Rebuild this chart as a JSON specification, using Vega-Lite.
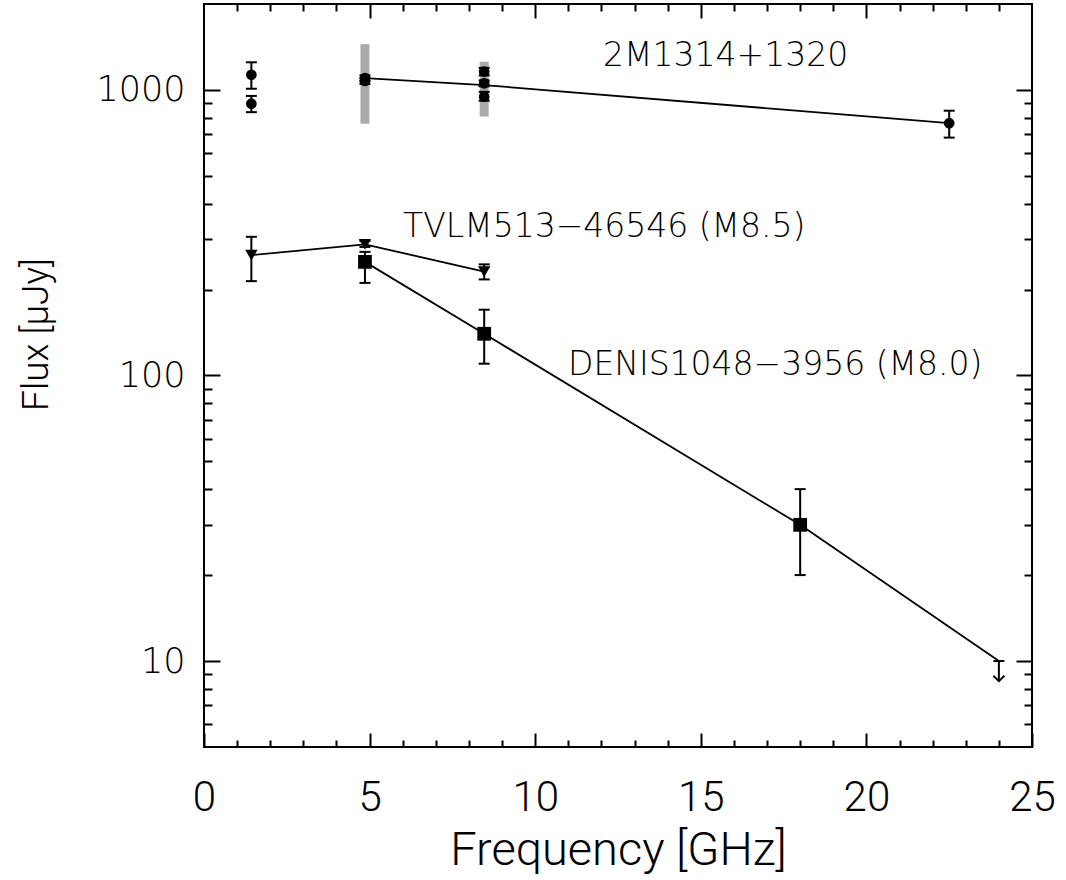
{
  "$schema": "https://vega.github.io/schema/vega-lite/v6.json",
  "width": 828,
  "height": 743,
  "autosize": "none",
  "padding": {"left": 204, "top": 4, "right": 34, "bottom": 133},
  "background": "white",
  "config": {
    "view": {"stroke": "black", "strokeWidth": 2},
    "axis": {"domain": false, "grid": false, "tickColor": "black", "tickWidth": 2, "labelColor": "black", "titleColor": "black", "labelFlush": false, "labelOverlap": false, "labelBound": false}
  },
  "datasets": {
    "pts": [
      {"src": "2M", "freq": 1.43, "flux": 1130, "lo": 1010, "hi": 1250},
      {"src": "2M", "freq": 1.43, "flux": 895, "lo": 836, "hi": 953},
      {"src": "2M", "freq": 4.86, "flux": 1100, "lo": 1075, "hi": 1125},
      {"src": "2M", "freq": 4.86, "flux": 1075, "lo": 1050, "hi": 1100},
      {"src": "2M", "freq": 8.46, "flux": 1160, "lo": 1125, "hi": 1195},
      {"src": "2M", "freq": 8.46, "flux": 1055, "lo": 1030, "hi": 1080},
      {"src": "2M", "freq": 8.46, "flux": 947, "lo": 917, "hi": 985},
      {"src": "2M", "freq": 22.5, "flux": 765, "lo": 681, "hi": 846},
      {"src": "TVLM", "freq": 1.43, "flux": 264, "lo": 214, "hi": 306},
      {"src": "TVLM", "freq": 4.86, "flux": 288, "lo": 282, "hi": 296},
      {"src": "TVLM", "freq": 8.46, "flux": 231, "lo": 217, "hi": 245},
      {"src": "DENIS", "freq": 4.86, "flux": 250, "lo": 211, "hi": 271},
      {"src": "DENIS", "freq": 8.46, "flux": 140, "lo": 110, "hi": 170},
      {"src": "DENIS", "freq": 18.0, "flux": 30, "lo": 20, "hi": 40}
    ],
    "grey": [
      {"freq": 4.86, "lo": 762, "hi": 1446},
      {"freq": 8.46, "lo": 807, "hi": 1256}
    ],
    "lines": [
      {"src": "2M", "freq": 4.86, "flux": 1100},
      {"src": "2M", "freq": 8.46, "flux": 1040},
      {"src": "2M", "freq": 22.5, "flux": 765},
      {"src": "TVLM", "freq": 1.43, "flux": 264},
      {"src": "TVLM", "freq": 4.86, "flux": 288},
      {"src": "TVLM", "freq": 8.46, "flux": 231},
      {"src": "DENIS", "freq": 4.86, "flux": 250},
      {"src": "DENIS", "freq": 8.46, "flux": 140},
      {"src": "DENIS", "freq": 18.0, "flux": 30},
      {"src": "DENIS", "freq": 24.0, "flux": 10}
    ],
    "limit": [
      {"freq": 24.0, "flux": 10, "tip": 8.5}
    ],
    "labels": [
      {"label": "2M1314+1320", "freq": 12.05, "flux": 1310},
      {"label": "TVLM513−46546 (M8.5)", "freq": 6.01, "flux": 331},
      {"label": "DENIS1048−3956 (M8.0)", "freq": 10.99, "flux": 109}
    ]
  },
  "resolve": {"axis": {"x": "independent", "y": "independent"}},
  "layer": [
    {
      "data": {"name": "grey"},
      "mark": {"type": "rule", "color": "#aaaaaa", "strokeWidth": 9},
      "encoding": {
        "x": {"field": "freq", "type": "quantitative", "scale": {"domain": [0, 25], "nice": false, "zero": false},
          "axis": {"orient": "bottom", "values": [0, 5, 10, 15, 20, 25], "tickSize": -14, "labelPadding": 44,
            "labelFont": "Roboto", "labelFontSize": 42, "labelFontWeight": 300,
            "title": "Frequency [GHz]", "titleFont": "Roboto", "titleFontSize": 47, "titleFontWeight": 300,
            "titleX": 414, "titleY": 117, "titleBaseline": "alphabetic", "titleAlign": "center", "titleAnchor": null}},
        "y": {"field": "lo", "type": "quantitative", "scale": {"type": "log", "domain": [5, 2000], "nice": false},
          "axis": {"orient": "left", "values": [10, 100, 1000], "format": "d", "tickSize": -16, "labelPadding": 35,
            "labelFont": "DejaVu Sans", "labelFontSize": 35, "labelFontWeight": 200,
            "title": "Flux [μJy]", "titleFont": "Roboto", "titleFontSize": 37, "titleFontWeight": 300,
            "titleX": -168, "titleY": 330, "titleAngle": 270, "titleBaseline": "middle", "titleAlign": "center", "titleAnchor": null}},
        "y2": {"field": "hi"}
      }
    },
    {
      "data": {"name": "lines"},
      "mark": {"type": "line", "color": "black", "strokeWidth": 1.8},
      "encoding": {
        "x": {"field": "freq", "type": "quantitative", "scale": {"domain": [0, 25], "nice": false, "zero": false},
          "axis": {"orient": "bottom", "values": [1, 2, 3, 4, 6, 7, 8, 9, 11, 12, 13, 14, 16, 17, 18, 19, 21, 22, 23, 24], "tickSize": -7, "labels": false, "title": null}},
        "y": {"field": "flux", "type": "quantitative", "scale": {"type": "log", "domain": [5, 2000], "nice": false},
          "axis": {"orient": "left", "values": [6, 7, 8, 9, 20, 30, 40, 50, 60, 70, 80, 90, 200, 300, 400, 500, 600, 700, 800, 900], "tickSize": -8, "labels": false, "title": null}},
        "detail": {"field": "src"}
      }
    },
    {
      "data": {"name": "pts"},
      "mark": {"type": "rule", "color": "black", "strokeWidth": 2},
      "encoding": {
        "x": {"field": "freq", "type": "quantitative", "scale": {"domain": [0, 25], "nice": false, "zero": false},
          "axis": {"orient": "top", "values": [5, 10, 15, 20], "tickSize": -14, "labels": false, "title": null}},
        "y": {"field": "lo", "type": "quantitative", "scale": {"type": "log", "domain": [5, 2000], "nice": false},
          "axis": {"orient": "right", "values": [10, 100, 1000], "tickSize": -16, "labels": false, "title": null}},
        "y2": {"field": "hi"}
      }
    },
    {
      "data": {"name": "pts"},
      "mark": {"type": "tick", "color": "black", "orient": "horizontal", "size": 11, "thickness": 2, "opacity": 1},
      "encoding": {
        "x": {"field": "freq", "type": "quantitative", "scale": {"domain": [0, 25], "nice": false, "zero": false},
          "axis": {"orient": "top", "values": [1, 2, 3, 4, 6, 7, 8, 9, 11, 12, 13, 14, 16, 17, 18, 19, 21, 22, 23, 24], "tickSize": -7, "labels": false, "title": null}},
        "y": {"field": "lo", "type": "quantitative", "scale": {"type": "log", "domain": [5, 2000], "nice": false},
          "axis": {"orient": "right", "values": [6, 7, 8, 9, 20, 30, 40, 50, 60, 70, 80, 90, 200, 300, 400, 500, 600, 700, 800, 900], "tickSize": -8, "labels": false, "title": null}}
      }
    },
    {
      "data": {"name": "pts"},
      "mark": {"type": "tick", "color": "black", "orient": "horizontal", "size": 11, "thickness": 2, "opacity": 1},
      "encoding": {
        "x": {"field": "freq", "type": "quantitative", "axis": null},
        "y": {"field": "hi", "type": "quantitative", "axis": null}
      }
    },
    {
      "data": {"name": "pts"},
      "mark": {"type": "point", "filled": true, "color": "black", "opacity": 1},
      "encoding": {
        "x": {"field": "freq", "type": "quantitative", "axis": null},
        "y": {"field": "flux", "type": "quantitative", "axis": null},
        "shape": {"field": "src", "type": "nominal", "scale": {"domain": ["2M", "TVLM", "DENIS"], "range": ["circle", "triangle-down", "square"]}, "legend": null},
        "size": {"field": "src", "type": "nominal", "scale": {"domain": ["2M", "TVLM", "DENIS"], "range": [115, 190, 115]}, "legend": null}
      }
    },
    {
      "data": {"name": "limit"},
      "mark": {"type": "rule", "color": "black", "strokeWidth": 2},
      "encoding": {
        "x": {"field": "freq", "type": "quantitative", "axis": null},
        "y": {"field": "flux", "type": "quantitative", "axis": null},
        "y2": {"field": "tip"}
      }
    },
    {
      "data": {"name": "limit"},
      "mark": {"type": "tick", "color": "black", "orient": "horizontal", "size": 11, "thickness": 2, "opacity": 1},
      "encoding": {
        "x": {"field": "freq", "type": "quantitative", "axis": null},
        "y": {"field": "flux", "type": "quantitative", "axis": null}
      }
    },
    {
      "data": {"name": "limit"},
      "mark": {"type": "point", "shape": "M-1,-1L0,0L1,-1", "filled": false, "stroke": "black", "strokeWidth": 2, "opacity": 1, "size": 121},
      "encoding": {
        "x": {"field": "freq", "type": "quantitative", "axis": null},
        "y": {"field": "tip", "type": "quantitative", "axis": null}
      }
    },
    {
      "data": {"name": "labels"},
      "mark": {"type": "text", "align": "left", "baseline": "middle", "font": "DejaVu Sans", "fontWeight": 200, "fontSize": 33, "color": "black"},
      "encoding": {
        "x": {"field": "freq", "type": "quantitative", "axis": null},
        "y": {"field": "flux", "type": "quantitative", "axis": null},
        "text": {"field": "label"}
      }
    }
  ]
}
